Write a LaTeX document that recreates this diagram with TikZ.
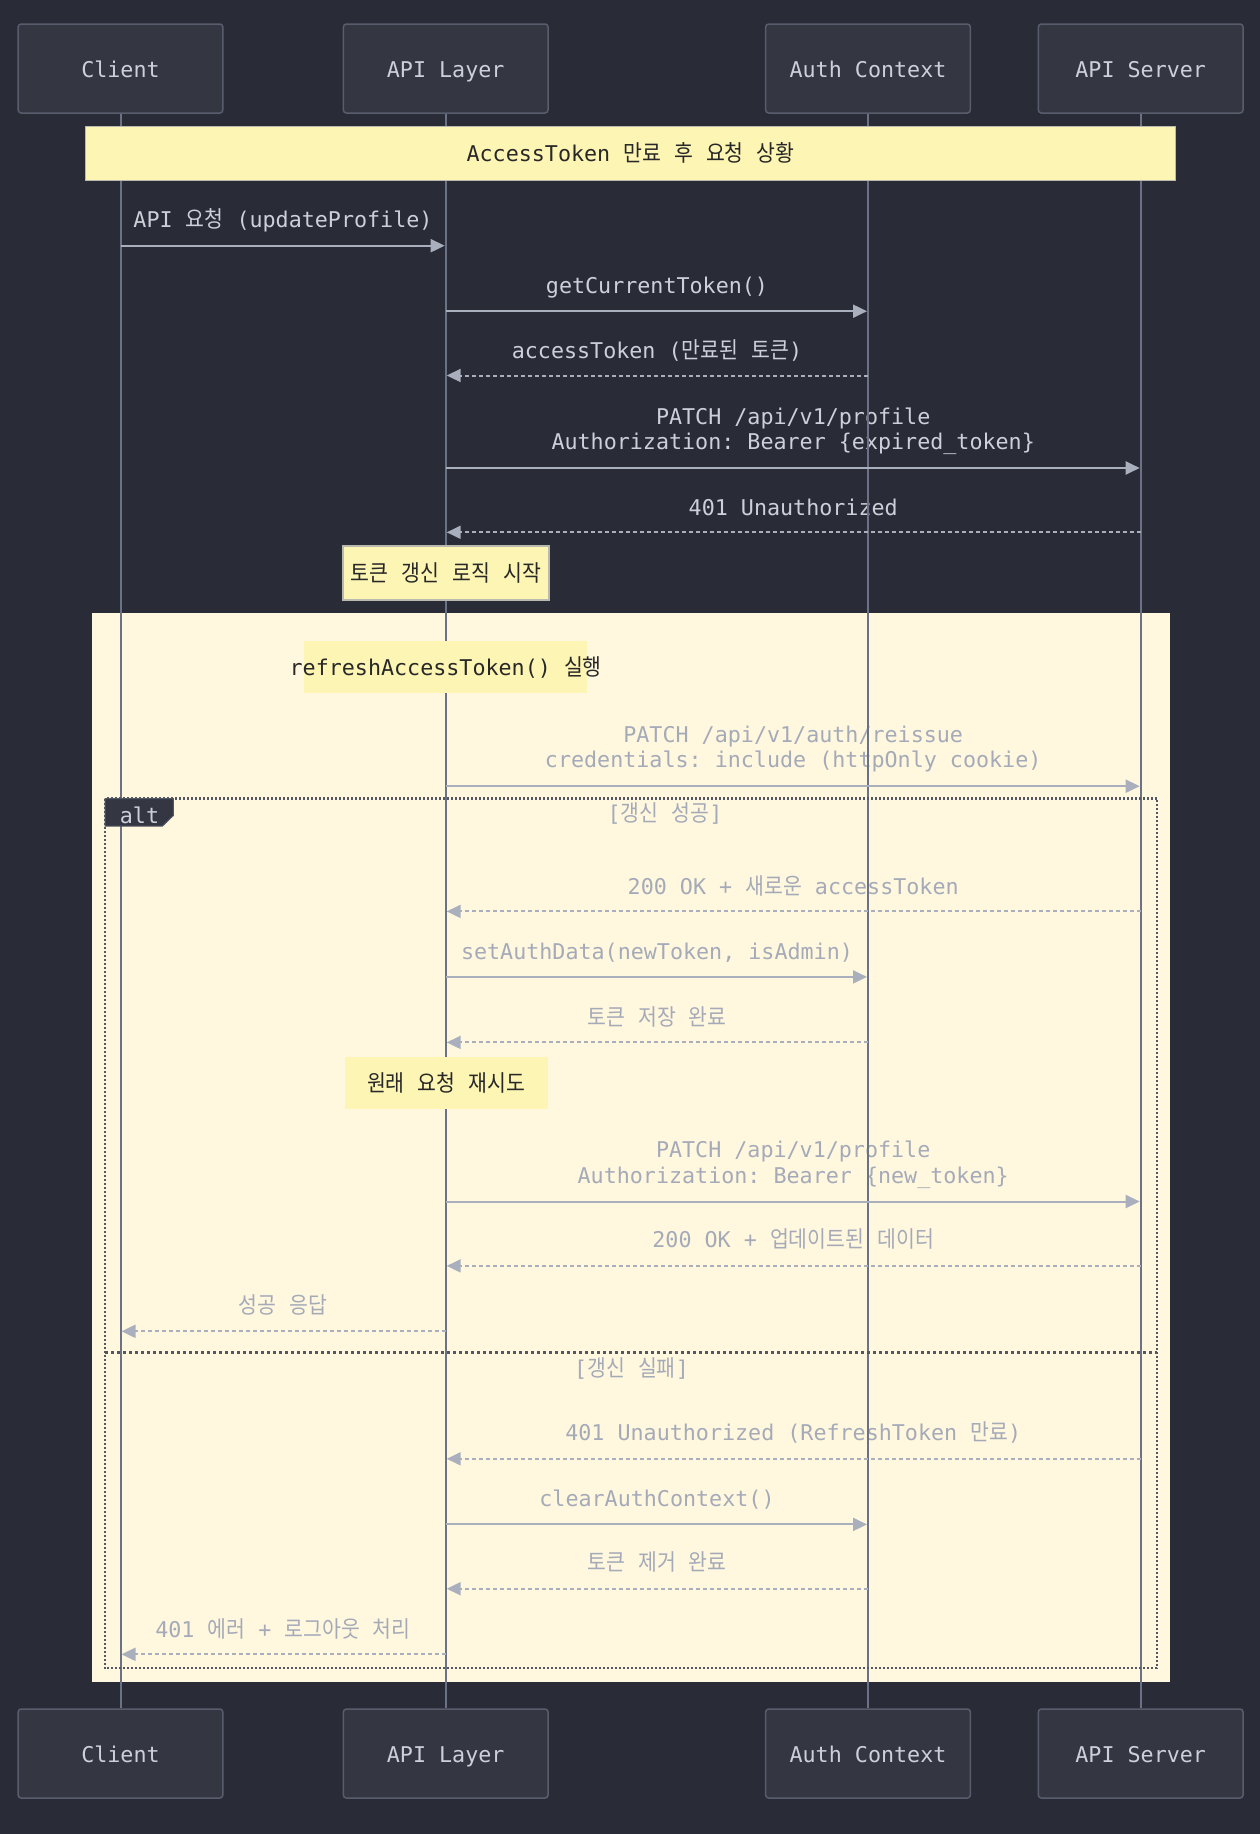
\documentclass[tikz,border=0pt]{standalone}
\usepackage{fontspec}
\setmainfont{DejaVu Sans Mono}
\newfontfamily\krfont[Scale=1.05,FakeStretch=0.9]{Noto Sans CJK KR}
\newcommand\hk[1]{{\krfont #1}}
\newcommand\dfont{\fontsize{21.7pt}{25.7pt}\selectfont\frenchspacing}
\usetikzlibrary{arrows.meta,calc}
\definecolor{bgc}{RGB}{41,43,54}
\definecolor{actfill}{RGB}{52,55,66}
\definecolor{actdraw}{RGB}{88,93,110}
\definecolor{acttext}{RGB}{205,208,216}
\definecolor{lifec}{RGB}{108,114,134}
\definecolor{linec}{RGB}{170,175,190}
\definecolor{grytext}{RGB}{165,170,185}
\definecolor{notefill}{RGB}{253,245,180}
\definecolor{notedraw}{RGB}{185,185,175}
\definecolor{notetext}{RGB}{40,40,40}
\definecolor{rectfill}{RGB}{255,248,222}
\definecolor{altdraw}{RGB}{82,87,102}
\definecolor{alttab}{RGB}{52,55,66}
\tikzset{
  actor/.style={draw=actdraw, fill=actfill, line width=1.5pt, rounded corners=3pt,
    minimum width=204.7pt, minimum height=89pt, text=acttext, font=\dfont, inner sep=0pt,
    text height=17pt, text depth=0pt},
  lbl/.style={anchor=base, font=\dfont, inner sep=0pt},
  lblD/.style={lbl, text=acttext},
  lblL/.style={lbl, text=grytext},
  notebox/.style={fill=notefill, text=notetext, font=\dfont, inner sep=0pt,
    text height=17pt, text depth=0pt},
  msg/.style={draw=linec, line width=2pt, -{Triangle[length=14pt,width=13pt]}, shorten >=1pt},
  rep/.style={msg, dash pattern=on 4pt off 3pt},
  life/.style={draw=lifec, line width=2pt},
}
\begin{document}
\begin{tikzpicture}[x=1pt,y=-1pt]
\fill[bgc] (0,0) rectangle (1260,1834);
\useasboundingbox (0,0) rectangle (1260,1834);
% highlight rect
\fill[rectfill] (92,613) rectangle (1170,1682);
% actors
\node[actor] (cT) at (120.5,68.5) {Client};
\node[actor] (aT) at (445.7,68.5) {API Layer};
\node[actor] (xT) at (868,68.5) {Auth Context};
\node[actor] (sT) at (1140.7,68.5) {API Server};
\node[actor] (cB) at (120.5,1753.5) {Client};
\node[actor] (aB) at (445.7,1753.5) {API Layer};
\node[actor] (xB) at (868,1753.5) {Auth Context};
\node[actor] (sB) at (1140.7,1753.5) {API Server};
% labels
\node[lblD] (l1) at (283,227.5) {API \hk{요청} (updateProfile)};
\node[lblD] (l2) at (657,293) {getCurrentToken()};
\node[lblD] (l3) at (657,358.5) {accessToken (\hk{만료된} \hk{토큰})};
\node[lblD] (l4a) at (793.2,424) {PATCH /api/v1/profile};
\node[lblD] (l4b) at (793.2,449.7) {Authorization: Bearer \{expired\_token\}};
\node[lblD] (l5) at (793.2,515.2) {401 Unauthorized};
\node[lblL] (l9a) at (793.2,742.2) {PATCH /api/v1/auth/reissue};
\node[lblL] (l9b) at (793.2,767.9) {credentials: include (httpOnly cookie)};
\node[lblL] (c1) at (665,821.5) {[\hk{갱신} \hk{성공}]};
\node[lblL] (l11) at (793.2,894.3) {200 OK + \hk{새로운} accessToken};
\node[lblL] (l12) at (657,959.8) {setAuthData(newToken, isAdmin)};
\node[lblL] (l13) at (657,1025.3) {\hk{토큰} \hk{저장} \hk{완료}};
\node[lblL] (l15a) at (793.2,1157.5) {PATCH /api/v1/profile};
\node[lblL] (l15b) at (793.2,1183.3) {Authorization: Bearer \{new\_token\}};
\node[lblL] (l16) at (793.2,1247.5) {200 OK + \hk{업데이트된} \hk{데이터}};
\node[lblL] (l17) at (283,1313.1) {\hk{성공} \hk{응답}};
\node[lblL] (c2) at (631.5,1376.3) {[\hk{갱신} \hk{실패}]};
\node[lblL] (l19) at (793.2,1440.5) {401 Unauthorized (RefreshToken \hk{만료})};
\node[lblL] (l20) at (657,1506.1) {clearAuthContext()};
\node[lblL] (l21) at (657,1570.5) {\hk{토큰} \hk{제거} \hk{완료}};
\node[lblL] (l22) at (283,1637.2) {401 \hk{에러} + \hk{로그아웃} \hk{처리}};
% lifelines
\draw[life] (cT.south) -- (cB.north);
\draw[life] (aT.south) -- (aB.north);
\draw[life] (xT.south) -- (xB.north);
\draw[life] (sT.south) -- (sB.north);
% messages
\draw[msg] (cT |- 0,245.7) -- (aT |- 0,245.7);
\draw[msg] (aT |- 0,311.2) -- (xT |- 0,311.2);
\draw[rep] (xT |- 0,375.5) -- (aT |- 0,375.5);
\draw[msg] (aT |- 0,468) -- (sT |- 0,468);
\draw[rep] (sT |- 0,532.3) -- (aT |- 0,532.3);
\draw[msg] (aT |- 0,786.2) -- (sT |- 0,786.2);
\draw[rep] (sT |- 0,911.4) -- (aT |- 0,911.4);
\draw[msg] (aT |- 0,976.9) -- (xT |- 0,976.9);
\draw[rep] (xT |- 0,1042.4) -- (aT |- 0,1042.4);
\draw[msg] (aT |- 0,1201.5) -- (sT |- 0,1201.5);
\draw[rep] (sT |- 0,1265.9) -- (aT |- 0,1265.9);
\draw[rep] (aT |- 0,1331.3) -- (cT |- 0,1331.3);
\draw[rep] (sT |- 0,1458.8) -- (aT |- 0,1458.8);
\draw[msg] (aT |- 0,1524.4) -- (xT |- 0,1524.4);
\draw[rep] (xT |- 0,1588.7) -- (aT |- 0,1588.7);
\draw[rep] (aT |- 0,1654.3) -- (cT |- 0,1654.3);
% notes
\node[notebox, draw=notedraw, line width=1.2pt, minimum width=1090.4pt, minimum height=53.8pt] (n0) at (630.6,153.3) {AccessToken \hk{만료} \hk{후} \hk{요청} \hk{상황}};
\node[notebox, draw=notedraw, line width=1.2pt, minimum width=206pt, minimum height=54pt] (n1) at (446,573) {\hk{토큰} \hk{갱신} \hk{로직} \hk{시작}};
\fill[notefill] (304,641) rectangle (587,692.6);
\node[lbl, text=notetext] (n2) at (445.7,675.5) {refreshAccessToken() \hk{실행}};
\node[notebox, minimum width=203pt, minimum height=51.7pt] (n3) at (446.2,1083.2) {\hk{원래} \hk{요청} \hk{재시도}};
% alt box
\draw[altdraw, line width=2.2pt, dash pattern=on 2pt off 2pt] (105,798.5) rectangle (1157,1668.3);
\draw[altdraw, line width=2.2pt, dash pattern=on 3pt off 3pt] (105,1352.4) -- (1157,1352.4);
\filldraw[fill=alttab, draw=altdraw, line width=1pt] (105,798.5) -- (173.3,798.5) -- (173.3,815.5) -- (162.5,826) -- (105,826) -- cycle;
\node[lblD] (alt) at (139.5,823) {alt};
\end{tikzpicture}
\end{document}
